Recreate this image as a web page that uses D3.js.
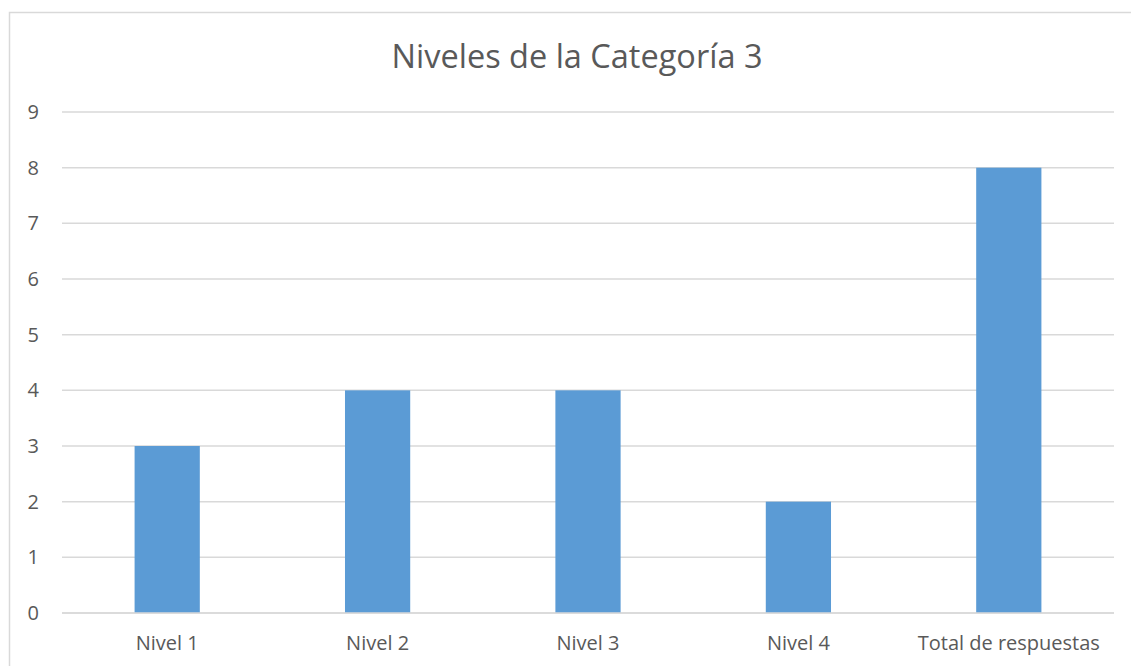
<!doctype html>
<meta charset="utf-8">
<title>Niveles de la Categoría 3</title>
<style>
    html, body {
        margin: 0;
        background: white;
    }

    svg {
        display: block;
        font-family: "Open Sans", "Noto Sans", sans-serif;
    }

    .grid line {
        stroke: #d9d9d9;
        stroke-width: 1.5;
    }

    .axis text {
        fill: #595959;
        font-family: "Open Sans", "Noto Sans", sans-serif;
        font-size: 20px;
    }

    .bar {
        fill: #5b9bd5;
    }
</style>
<svg width=1131 height=666></svg>
<script src=https://d3js.org/d3.v7.min.js></script>
<script>
    // chart data
    var categories = ['Nivel 1', 'Nivel 2', 'Nivel 3', 'Nivel 4', 'Total de respuestas'];
    var counts = [3, 4, 4, 2, 8];
    var yTicks = [0, 1, 2, 3, 4, 5, 6, 7, 8, 9];
    var title = 'Niveles de la Categoría 3';

    var svg = d3.select('svg');
    var margin = { top: 112, right: 17, bottom: 53, left: 62 };
    var width = svg.attr('width') - margin.left - margin.right;
    var height = svg.attr('height') - margin.top - margin.bottom;

    // outer chart frame (top + left edges visible)
    svg.append('path')
        .attr('d', 'M9.5,666 V12.5 H1131')
        .attr('fill', 'none')
        .attr('stroke', '#d9d9d9')
        .attr('stroke-width', 1.5);

    svg.append('text')
        .attr('x', 577)
        .attr('y', 68)
        .attr('text-anchor', 'middle')
        .attr('fill', '#595959')
        .style('font-size', '32.5px')
        .text(title);

    var g = svg.append('g').attr('transform', 'translate(' + margin.left + ',' + margin.top + ')');

    var x = d3.scaleBand().domain(categories).range([0, width]).paddingInner(0.69).paddingOuter(0.345);
    var y = d3.scaleLinear().domain([0, 9]).range([height, 0]);

    // horizontal gridlines
    g.append('g')
        .attr('class', 'grid')
        .selectAll('line')
        .data(yTicks)
        .enter()
        .append('line')
        .attr('x1', 0)
        .attr('x2', width)
        .attr('y1', function (d) { return y(d); })
        .attr('y2', function (d) { return y(d); });

    g.selectAll('.bar')
        .data(counts)
        .enter()
        .append('rect')
        .attr('class', 'bar')
        .attr('x', function (d, i) { return x(categories[i]); })
        .attr('width', x.bandwidth())
        .attr('y', function (d) { return y(d); })
        .attr('height', function (d) { return height - y(d); });

    // redraw the baseline on top of the bars
    g.append('line')
        .attr('x1', 0)
        .attr('x2', width)
        .attr('y1', y(0))
        .attr('y2', y(0))
        .attr('stroke', '#d9d9d9')
        .attr('stroke-width', 1.5);

    var yAxis = g.append('g')
        .attr('class', 'axis')
        .call(d3.axisLeft(y).tickValues(yTicks).tickSize(0).tickPadding(23));
    yAxis.select('.domain').remove();

    var xAxis = g.append('g')
        .attr('class', 'axis')
        .attr('transform', 'translate(0,' + height + ')')
        .call(d3.axisBottom(x).tickSize(0).tickPadding(23));
    xAxis.select('.domain').remove();
</script>
